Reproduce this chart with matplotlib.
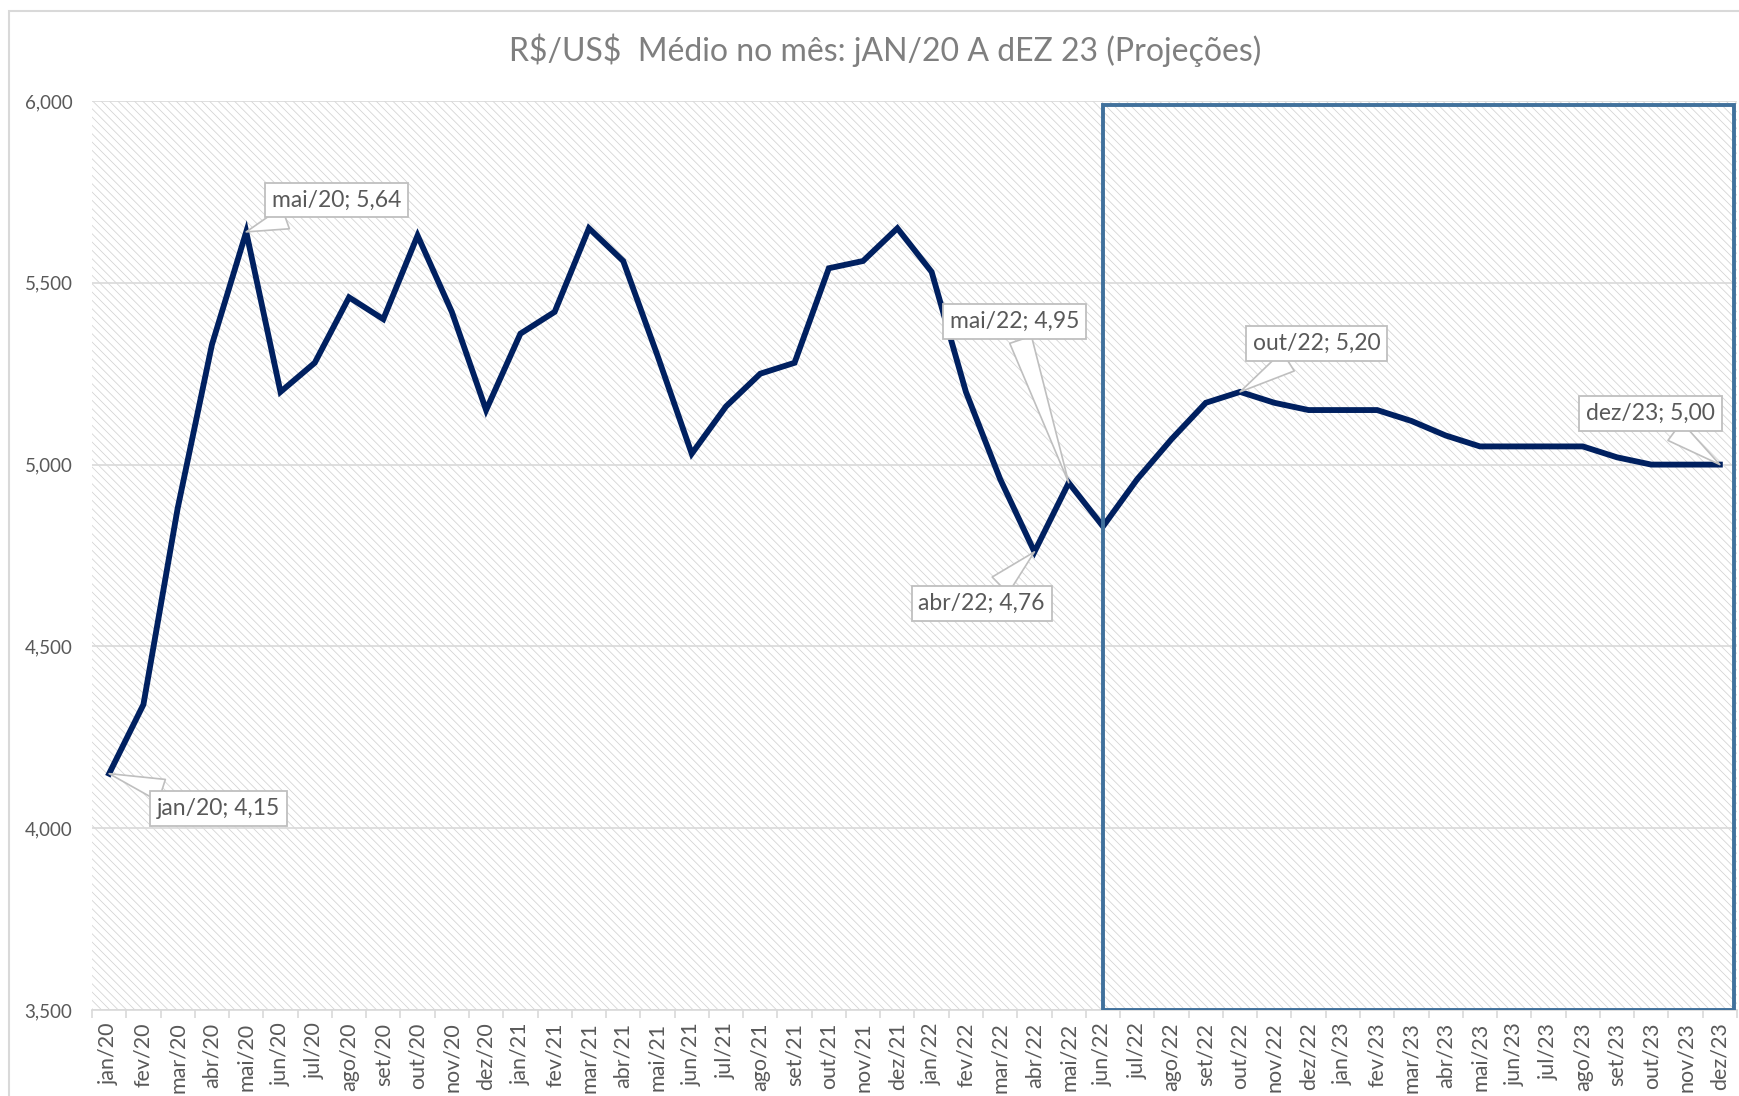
import matplotlib
matplotlib.use("Agg")
import matplotlib.pyplot as plt
from matplotlib.patches import Rectangle

plt.rcParams["font.family"] = ["Lato", "DejaVu Sans"]
plt.rcParams["hatch.linewidth"] = 0.55

MONTHS = ["jan", "fev", "mar", "abr", "mai", "jun",
          "jul", "ago", "set", "out", "nov", "dez"]
YEARS = ["20", "21", "22", "23"]
LABELS = [f"{m}/{y}" for y in YEARS for m in MONTHS]

# R$/US$ monthly average; from jun/22 on these are projections
USDBRL = [
    4.15, 4.34, 4.88, 5.33, 5.64, 5.20, 5.28, 5.46, 5.40, 5.63, 5.42, 5.15,  # 2020
    5.36, 5.42, 5.65, 5.56, 5.30, 5.03, 5.16, 5.25, 5.28, 5.54, 5.56, 5.65,  # 2021
    5.53, 5.20, 4.96, 4.76, 4.95, 4.83, 4.96, 5.07, 5.17, 5.20, 5.17, 5.15,  # 2022
    5.15, 5.15, 5.12, 5.08, 5.05, 5.05, 5.05, 5.05, 5.02, 5.00, 5.00, 5.00,  # 2023
]

# points that get a callout, and where the box sits (offset in points)
CALLOUTS = ["jan/20", "mai/20", "abr/22", "mai/22", "out/22", "dez/23"]
CALLOUT_OFFSET = {
    "jan/20": (79, -25),
    "mai/20": (65, 23),
    "abr/22": (-38, -37),
    "mai/22": (-39, 116),
    "out/22": (55, 35),
    "dez/23": (-50, 37),
}
PROJ_START = "jun/22"

YTICKS = [3.5, 4.0, 4.5, 5.0, 5.5, 6.0]

TITLE = r"R\$/US\$  Médio no mês: jAN/20 A dEZ 23 (Projeções)"

GRAY_TXT = "#595959"
GRID = "#d9d9d9"
NAVY = "#002060"
BOXBLUE = "#41719c"


def br(v, nd):
    return f"{v:.{nd}f}".replace(".", ",")


fig = plt.figure(figsize=(17.4, 10.96), dpi=100)
ax = fig.add_axes([92 / 1740, 86 / 1096, 1645 / 1740, 909 / 1096])

# outer chart border (Excel chart area)
fig.add_artist(Rectangle((9 / 1740, -0.05), 1.2, 1 - 11 / 1096 + 0.05,
                         transform=fig.transFigure, fill=False,
                         edgecolor=GRID, lw=1.5))

# hatched plot area
ax.add_patch(Rectangle((0, 0), 1, 1, transform=ax.transAxes,
                       facecolor="white", edgecolor="#d2d2d2",
                       hatch="\\\\\\\\", lw=0, zorder=0))

x = list(range(len(LABELS)))
ax.plot(x, USDBRL, color=NAVY, lw=4.2, solid_joinstyle="miter", zorder=3)

ax.set_xlim(-0.5, len(LABELS) - 0.5)
ax.set_ylim(3.5, 6.0)
ax.set_yticks(YTICKS)
ax.set_yticklabels([br(v, 3) for v in YTICKS])
ax.set_xticks(x)
ax.set_xticklabels(LABELS, rotation=90, va="top", ha="center")
ax.set_xticks([i - 0.5 for i in range(len(LABELS) + 1)], minor=True)

ax.tick_params(axis="x", which="major", length=0, pad=9,
               labelsize=15.5, labelcolor=GRAY_TXT)
ax.tick_params(axis="x", which="minor", length=6, width=1.2, color=GRID)
ax.tick_params(axis="y", length=0, pad=14, labelsize=13.5,
               labelcolor=GRAY_TXT)

ax.grid(axis="y", color=GRID, lw=1.2)
ax.set_axisbelow(True)
for side in ["left", "right", "top"]:
    ax.spines[side].set_visible(False)
ax.spines["bottom"].set_color(GRID)
ax.spines["bottom"].set_linewidth(1.2)

# projection window
p0 = LABELS.index(PROJ_START)
ax.add_patch(Rectangle((p0, 3.5), len(LABELS) - 0.58 - p0, 5.988 - 3.5,
                       fill=False, edgecolor=BOXBLUE, lw=2.8, zorder=4))

for lab in CALLOUTS:
    i = LABELS.index(lab)
    v = USDBRL[i]
    ax.annotate(f"{lab}; {br(v, 2)}", xy=(i, v),
                xytext=CALLOUT_OFFSET[lab], textcoords="offset points",
                ha="center", va="center", fontsize=16.5, color=GRAY_TXT,
                bbox=dict(boxstyle="square,pad=0.3", fc="white",
                          ec="#bfbfbf", lw=1.3),
                arrowprops=dict(arrowstyle="wedge,tail_width=1.0,shrink_factor=0.5",
                                fc="white", ec="#bfbfbf", lw=1.2,
                                shrinkA=0, shrinkB=0),
                zorder=5)

fig.text(885 / 1740, 1 - 50 / 1096, TITLE, ha="center", va="center",
         fontsize=23, color="#7f7f7f")

fig.savefig("out.png", dpi=100)
